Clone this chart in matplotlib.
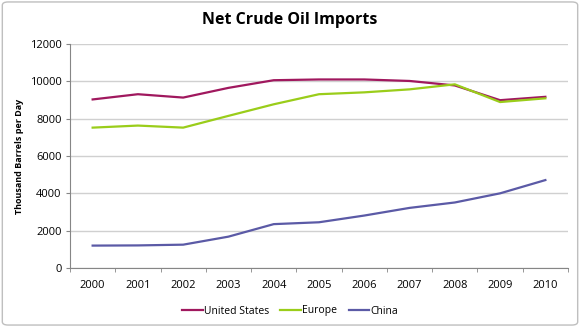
import matplotlib
matplotlib.use("Agg")
import matplotlib.pyplot as plt
from matplotlib.patches import FancyBboxPatch

years = ["2000", "2001", "2002", "2003", "2004", "2005", "2006", "2007", "2008", "2009", "2010"]
united_states = [9030, 9310, 9130, 9650, 10060, 10100, 10100, 10020, 9780, 8990, 9170]
europe = [7520, 7630, 7520, 8150, 8770, 9310, 9410, 9570, 9840, 8890, 9090]
china = [1200, 1210, 1250, 1680, 2350, 2450, 2810, 3220, 3510, 4000, 4710]

C = dict(us="#A0185E", eu="#9ACD1A", cn="#5B5AA6")
plt.rcParams.update({"font.family": "Open Sans", "font.size": 8})

fig = plt.figure(figsize=(5.8, 3.27), dpi=100)
# outer chart border (Excel style)
fig.patches.append(FancyBboxPatch((0.004, 0.006), 0.992, 0.988, boxstyle="round,pad=0,rounding_size=0.01",
                                  transform=fig.transFigure, fill=False, ec="#BFBFBF", lw=1.0))
ax = fig.add_axes([70/580, 1-268/327, 498/580, 224/327])

x = list(range(len(years)))
ax.plot(x, united_states, color=C["us"], lw=1.6, label="United States")
ax.plot(x, europe, color=C["eu"], lw=1.6, label="Europe")
ax.plot(x, china, color=C["cn"], lw=1.6, label="China")

ax.set_xlim(-0.5, len(years) - 0.5)
ax.set_ylim(0, 12000)
ax.set_yticks(range(0, 12001, 2000))
ax.set_xticks(x)
ax.set_xticklabels(years)
ax.set_xticks([i - 0.5 for i in range(len(years) + 1)], minor=True)
ax.tick_params(axis="x", which="major", length=0, pad=9, labelsize=8)
ax.tick_params(axis="x", which="minor", length=3, color="#868686", direction="out")
ax.tick_params(axis="y", length=3, color="#868686", direction="out", labelsize=8, pad=3)
ax.grid(axis="y", color="#D0D0D0", lw=1.0)
ax.set_axisbelow(True)
for s in ["top", "right"]:
    ax.spines[s].set_visible(False)
for s in ["left", "bottom"]:
    ax.spines[s].set_color("#868686")

ax.set_ylabel("Thousand Barrels per Day", fontsize=6.5, fontweight="bold", labelpad=4)
fig.text(0.5, 1-20/327, "Net Crude Oil Imports", ha="center", va="center", fontsize=11.5, fontweight="bold")
fig.legend(loc="center", bbox_to_anchor=(0.5, 1-311/327), ncol=3, frameon=False, fontsize=7.5,
           handlelength=2.0, handletextpad=0.1, columnspacing=1.1)

fig.savefig("out.png", dpi=100)
